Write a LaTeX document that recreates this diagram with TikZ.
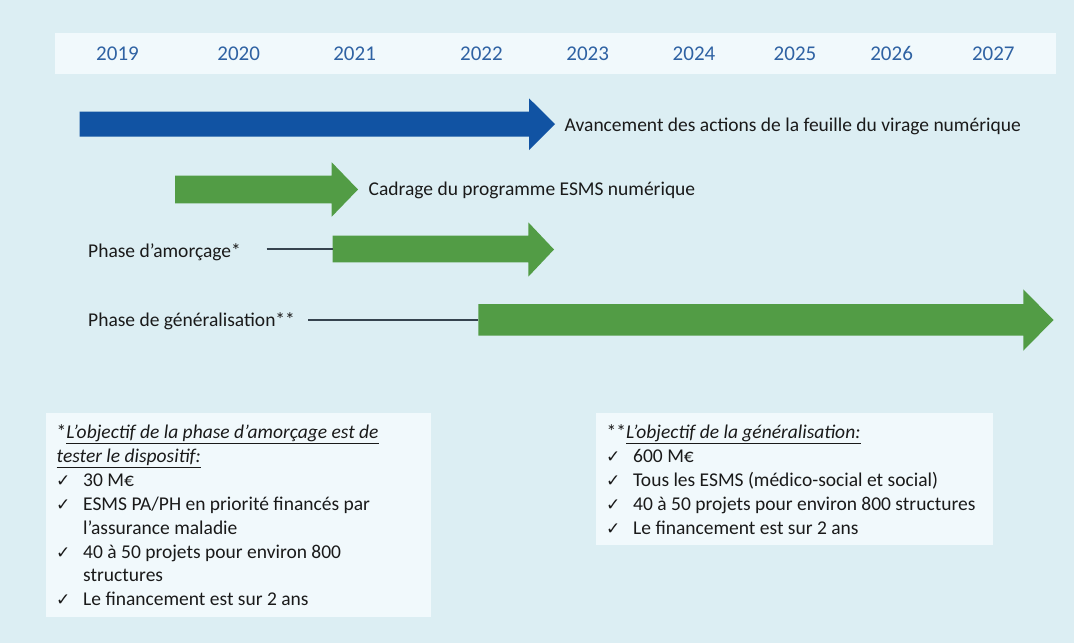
\documentclass[tikz,border=0pt]{standalone}
\usepackage{fontspec}
\setmainfont{Carlito}
\newfontfamily\symfont{DejaVu Sans}
\definecolor{bgc}{HTML}{DCEEF3}
\definecolor{panel}{HTML}{F1F9FC}
\definecolor{bluearr}{HTML}{1153A3}
\definecolor{greenarr}{HTML}{529C45}
\definecolor{yearc}{HTML}{2F62A3}
\definecolor{txt}{HTML}{1A1A1A}
\definecolor{linec}{HTML}{36434E}
\tikzset{
  yearlbl/.style={font=\fontsize{21}{25}\selectfont, text=yearc, anchor=base, inner sep=0pt},
  lbl/.style={font=\fontsize{19.5}{24}\selectfont, text=txt, anchor=base west, inner sep=0pt},
  chk/.style={font=\symfont\fontsize{17}{24}\selectfont, text=txt, anchor=base west, inner sep=0pt},
  panelbox/.style={fill=panel, draw=none},
  leader/.style={draw=linec, line width=1.2pt},
}
\begin{document}
\begin{tikzpicture}[x=1pt,y=-1pt]
\fill[bgc] (0,0) rectangle (1074,643);
\useasboundingbox (0,0) rectangle (1074,643);
% year band
\fill[panel] (55,32.5) rectangle (1056,73.5);
\foreach \yr/\xx in {2019/117.5,2020/238.7,2021/354.6,2022/481.4,2023/587.7,2024/694,2025/795,2026/891.6,2027/993.3}
  \node[yearlbl] (y\yr) at (\xx,60) {\yr};
% arrows
\fill[bluearr] (79.5,111.5) -- (529,111.5) -- (529,98.3) -- (555,124) -- (529,150) -- (529,136.7) -- (79.5,136.7) -- cycle;
\fill[greenarr] (175,175.7) -- (331.7,175.7) -- (331.7,162.3) -- (358,189.5) -- (331.7,216.7) -- (331.7,203.3) -- (175,203.3) -- cycle;
\fill[greenarr] (332.7,235.7) -- (528.3,235.7) -- (528.3,222.3) -- (554,249.5) -- (528.3,276.7) -- (528.3,262.3) -- (332.7,262.3) -- cycle;
\fill[greenarr] (478.3,304) -- (1023.3,304) -- (1023.3,289.3) -- (1053.5,320) -- (1023.3,350.7) -- (1023.3,335.5) -- (478.3,335.5) -- cycle;
\coordinate (amtail) at (332.7,249);
\coordinate (gentail) at (478.3,320);
% labels
\node[lbl] (avanc) at (564.5,131) {Avancement des actions de la feuille du virage numérique};
\node[lbl] (cadr) at (368.5,195) {Cadrage du programme ESMS numérique};
\node[lbl] (amorc) at (88,257) {Phase d’amorçage*};
\node[lbl] (gener) at (88,326) {Phase de généralisation**};
\coordinate (amstart) at (266.7,249);
\coordinate (genstart) at (308.3,320);
\draw[leader] (amstart) -- (amtail);
\draw[leader] (genstart) -- (gentail);
% left panel
\fill[panelbox] (46,413.3) rectangle (430.7,617);
\node[lbl] (l1) at (56.5,438.5) {*\underline{\itshape L’objectif de la phase d’amorçage est de}};
\node[lbl] (l2) at (56.5,462.4) {\underline{\itshape tester le dispositif:}};
\foreach \yy/\tt [count=\i] in {486.3/{30 M€},510.2/{ESMS PA/PH en priorité financés par},558/{40 à 50 projets pour environ 800},605.8/{Le financement est sur 2 ans}}{
  \node[chk] (lc\i) at (56,\yy) {✓};
  \node[lbl] (lt\i) at (83,\yy) {\tt};
}
\node[lbl] (lt2b) at (83,534.1) {l’assurance maladie};
\node[lbl] (lt3b) at (83,581.9) {structures};
% right panel
\fill[panelbox] (596,413.3) rectangle (993,545);
\node[lbl] (r1) at (606.5,438.5) {**\underline{\itshape L’objectif de la généralisation:}};
\foreach \yy/\tt [count=\i] in {462.4/{600 M€},486.3/{Tous les ESMS (médico-social et social)},510.2/{40 à 50 projets pour environ 800 structures},534.1/{Le financement est sur 2 ans}}{
  \node[chk] (rc\i) at (606,\yy) {✓};
  \node[lbl] (rt\i) at (633,\yy) {\tt};
}
\end{tikzpicture}
\end{document}
